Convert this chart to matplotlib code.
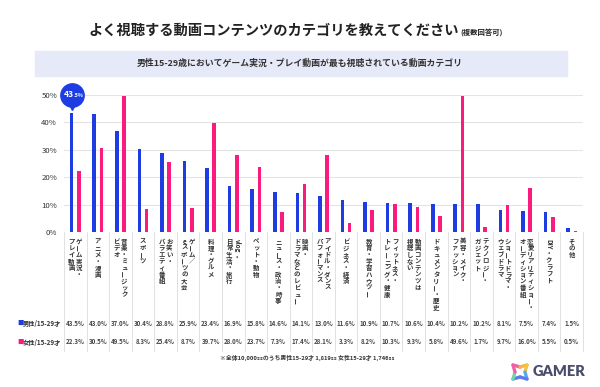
import matplotlib
matplotlib.use("Agg")
import matplotlib.pyplot as plt
import matplotlib.transforms as mtransforms
from matplotlib.patches import Rectangle
import numpy as np

plt.rcParams['font.family'] = ['Noto Sans CJK JP', 'DejaVu Sans']

# データ
categories = [
    ["ゲーム実況・", "プレイ動画"],
    ["アニメ・漫画"],
    ["音楽・ミュージック", "ビデオ"],
    ["スポーツ"],
    ["お笑い・", "バラエティ番組"],
    ["ゲーム／", "eスポーツの大会"],
    ["料理・グルメ"],
    ["vlog・", "日常生活・旅行"],
    ["ペット・動物"],
    ["ニュース・政治・時事"],
    ["映画・", "ドラマなどのレビュー"],
    ["アイドル・ダンス", "パフォーマンス"],
    ["ビジネス・経済"],
    ["教育・学習ハウツー"],
    ["フィットネス・", "トレーニング・健康"],
    ["動画コンテンツは", "視聴しない"],
    ["ドキュメンタリー・歴史"],
    ["美容・メイク・", "ファッション"],
    ["テクノロジー・", "ガジェット"],
    ["ショートドラマ・", "ウェブドラマ"],
    ["恋愛リアリティショー・", "オーディション番組"],
    ["DIY・クラフト"],
    ["その他"],
]
male = [43.5, 43.0, 37.0, 30.4, 28.8, 25.9, 23.4, 16.9, 15.8, 14.6, 14.1, 13.0,
        11.6, 10.9, 10.7, 10.6, 10.4, 10.2, 10.2, 8.1, 7.5, 7.4, 1.5]
female = [22.3, 30.5, 49.5, 8.3, 25.4, 8.7, 39.7, 28.0, 23.7, 7.3, 17.4, 28.1,
          3.3, 8.2, 10.3, 9.3, 5.8, 49.6, 1.7, 9.7, 16.0, 5.5, 0.5]
series_names = ["男性/15-29才", "女性/15-29才"]
yticks = [0, 10, 20, 30, 40, 50]

BLUE = "#1d3de3"
PINK = "#fb1a7e"
TXT = "#333333"

W, H = 600, 387
fig = plt.figure(figsize=(6, 3.87), dpi=100)

def fx(px):
    return px / W

def fy(py):
    return 1 - py / H

# タイトル
fig.text(fx(459), fy(35), "よく視聴する動画コンテンツのカテゴリを教えてください",
         ha="right", va="baseline", fontsize=10.3, fontweight="bold", color="#222222")
fig.text(fx(460), fy(35), "(複数回答可)", ha="left", va="baseline",
         fontsize=5.3, fontweight="bold", color="#222222")

fig.patches.append(Rectangle((fx(35), fy(76)), fx(567) - fx(35), fy(51) - fy(76),
                             transform=fig.transFigure, color="#e5e9f8", zorder=0))
fig.text(0.5, fy(63.5), "男性15-29歳においてゲーム実況・プレイ動画が最も視聴されている動画カテゴリ",
         ha="center", va="center", fontsize=6.4, fontweight="bold", color=TXT)

# グラフ本体
ax = fig.add_axes([fx(64), fy(232), fx(583) - fx(64), fy(95) - fy(232)])
x = np.arange(len(male))
off = 0.16
ax.bar(x - off, male, width=0.16, color=BLUE, zorder=3)
ax.bar(x + off, female, width=0.16, color=PINK, zorder=3)
ax.set_xlim(-0.5, len(male) - 0.5)
ax.set_ylim(0, 50)
ax.set_yticks(yticks)
ax.set_yticklabels([f"{v}%" for v in yticks])
ax.set_xticks([])
ax.tick_params(axis="y", length=0, pad=5, labelsize=5.6, labelcolor=TXT)
ax.yaxis.grid(True, color="#e4e4e4", lw=0.8)
ax.set_axisbelow(True)
for s in ax.spines.values():
    s.set_visible(False)

# 吹き出し
bub = mtransforms.offset_copy(ax.transData, fig=fig, y=12.8, units="points")
tip = mtransforms.offset_copy(ax.transData, fig=fig, y=4.2, units="points")
ax.plot([x[0] - off], [male[0]], marker="o", ms=16.8, color=BLUE, mec=BLUE,
        transform=bub, clip_on=False, zorder=5)
ax.plot([x[0] - off], [male[0]], marker="v", ms=5, color=BLUE, mec=BLUE,
        transform=tip, clip_on=False, zorder=5)
lbl = f"{male[0]:.1f}"
ip, dp = lbl.split(".")
t1 = mtransforms.offset_copy(ax.transData, fig=fig, x=1.6, y=11.2, units="points")
ax.text(x[0] - off, male[0], ip, transform=t1, ha="right", va="baseline",
        fontsize=6.2, fontweight="bold", color="white", zorder=6)
ax.text(x[0] - off, male[0], "." + dp + "%", transform=t1, ha="left", va="baseline",
        fontsize=3.8, fontweight="bold", color="white", zorder=6)

# 縦書きラベル
tr = mtransforms.blended_transform_factory(ax.transData, fig.transFigure)
step = 6.6 / H
lfs = 4.6

def tokens(s):
    out = []
    i = 0
    while i < len(s):
        if s[i].isascii() and s[i].isalpha():
            j = i
            while j < len(s) and s[j].isascii() and s[j].isalpha():
                j += 1
            out.append(s[i:j])
            i = j
        else:
            out.append(s[i])
            i += 1
    return out

def vcol(xd, s):
    y = fy(238)
    for tk in tokens(s):
        if len(tk) > 1:
            h = step * 0.62 * len(tk)
            fig.text(xd, y - h / 2, tk, transform=tr, ha="center", va="center",
                     rotation=-90, fontsize=lfs, fontweight="bold", color=TXT)
            y -= h
        else:
            rot = 90 if tk in "ー" else 0
            fig.text(xd, y - step / 2, tk, transform=tr, ha="center", va="center",
                     rotation=rot, rotation_mode="anchor",
                     fontsize=lfs, fontweight="bold", color=TXT)
            y -= step

for i, cols in enumerate(categories):
    if len(cols) == 1:
        vcol(x[i], cols[0])
    else:
        vcol(x[i] + 0.17, cols[0])
        vcol(x[i] - 0.17, cols[1])

# 区切り線
for k in range(len(male) + 1):
    fig.add_artist(plt.Line2D([k - 0.5, k - 0.5], [fy(232), fy(351)], transform=tr,
                              color="#dcdcdc", lw=0.6))

# 表
rows_y = [fy(323), fy(342)]
for vals, name, col, yy in zip([male, female], series_names, [BLUE, PINK], rows_y):
    fig.text(fx(17), yy, "■", ha="left", va="center", fontsize=4.6, color=col)
    fig.text(fx(23), yy, name, ha="left", va="center", fontsize=4.5,
             fontweight="bold", color=TXT)
    for i, v in enumerate(vals):
        fig.text(x[i], yy, f"{v:.1f}%", transform=tr, ha="center", va="center",
                 fontsize=4.4, fontweight="bold", color="#444444")

fig.text(fx(307), fy(358), "※全体10,000ssのうち男性15-29才 1,819ss 女性15-29才 1,746ss",
         ha="center", va="center", fontsize=4.2, fontweight="bold", color=TXT)

# ロゴ
lx0, lx1, ly0, ly1 = 513, 527, 365, 379
segs = [((lx0, ly0), (lx0 + 7, ly0 + 2), "#f25fa8"),
        ((lx0 + 7, ly0 + 2), (lx1, ly0), "#f5b73a"),
        ((lx1, ly0), (lx1 - 2, ly0 + 7), "#f5c542"),
        ((lx1 - 2, ly0 + 7), (lx1, ly1), "#5aa9f0"),
        ((lx1, ly1), (lx0 + 7, ly1 - 2), "#5b7cf0"),
        ((lx0 + 7, ly1 - 2), (lx0, ly1), "#5b7cf0"),
        ((lx0, ly1), (lx0 + 2, ly0 + 7), "#6fd6a8"),
        ((lx0 + 2, ly0 + 7), (lx0, ly0), "#f25fa8")]
for a, b, c in segs:
    fig.add_artist(plt.Line2D([fx(a[0]), fx(b[0])], [fy(a[1]), fy(b[1])],
                              transform=fig.transFigure, color=c, lw=2.4,
                              solid_capstyle="round"))
fig.text(fx(533), fy(372), "GAMER", ha="left", va="center", fontsize=10.5,
         fontweight="heavy", color="#4a4e6b", family="Lato")

fig.savefig("out.png", dpi=100, facecolor="white")
